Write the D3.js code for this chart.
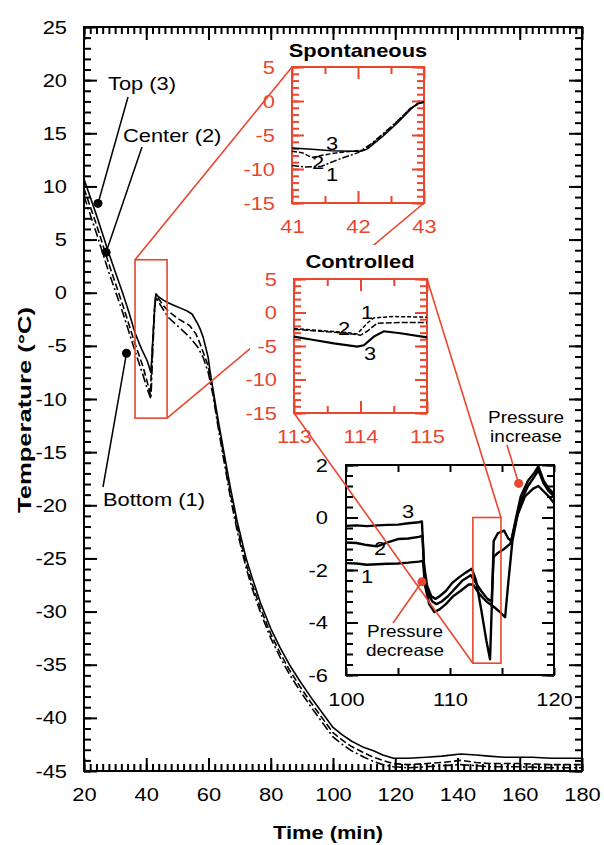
<!DOCTYPE html>
<html>
<head>
<meta charset="utf-8">
<script src="https://cdn.jsdelivr.net/npm/d3@7"></script>
<style>
  body { margin: 0; background: #fff; }
  text { font-family: "Liberation Sans", Arial, sans-serif; }
</style>
</head>
<body>
<svg id="chart" width="604" height="845"></svg>
<script>
// main run, time (min) vs temperature (°C) -- probes 3 = top, 2 = center, 1 = bottom
const topProbe = [[20,10.7],[22,9.0],[24,7.3],[26,5.5],[28,3.7],[30,2.0],[32.5,-0.1],[34.5,-1.9],[36.4,-3.8],[38.5,-5.3],[40.3,-6.4],[41.5,-7.5],[42.1,-4.5],[42.7,-1.5],[43.1,-0.1],[44,-0.4],[45.5,-0.7],[47,-0.95],[49,-1.2],[51,-1.45],[53,-1.7],[54.7,-2.0],[56.3,-2.8],[57.3,-3.4],[58.3,-4.2],[59.9,-6.1],[60.5,-7.4],[61.5,-9.2],[63,-11.8],[64.7,-14.6],[67,-18.3],[69.2,-21.5],[72,-24.9],[74,-26.8],[76.6,-29.1],[80,-31.6],[83,-33.4],[86,-35.0],[89.5,-36.6],[93,-38.1],[96,-39.3],[98,-40.1],[100,-40.9],[103,-41.6],[106,-42.2],[110,-42.8],[113,-43.1],[116,-43.5],[119.4,-43.8],[124,-43.8],[130,-43.7],[135,-43.6],[141,-43.4],[146,-43.5],[150,-43.6],[155,-43.7],[160,-43.7],[164,-43.7],[170,-43.8],[175,-43.8],[180,-43.8]];
const centerProbe = [[20,9.8],[24,6.4],[28,2.7],[32.5,-1.2],[36.4,-4.8],[39,-7.0],[40.5,-8.6],[41.3,-9.6],[42.0,-5.0],[42.7,-1.2],[43.1,-0.2],[44,-0.6],[45.5,-1.2],[47,-1.7],[50,-2.4],[54,-3.1],[56,-3.9],[57.3,-4.8],[59.9,-6.9],[61.5,-9.5],[63,-12.2],[64.7,-15.0],[67,-18.8],[69.2,-22.0],[72,-25.4],[74,-27.4],[76.6,-29.6],[80,-32.1],[83,-33.9],[86,-35.5],[89.5,-37.1],[93,-38.6],[96,-39.8],[100,-41.4],[103,-42.1],[106,-42.7],[110,-43.3],[113,-43.7],[116,-44.0],[119.4,-44.3],[124,-44.4],[130,-44.3],[135,-44.2],[141,-44.0],[146,-44.2],[150,-44.3],[160,-44.3],[170,-44.4],[180,-44.4]];
const bottomProbe = [[20,9.1],[24,5.6],[28,1.9],[32.5,-1.9],[36.4,-5.5],[39,-7.8],[40.5,-9.2],[41.5,-10.0],[42.1,-5.5],[42.7,-1.5],[43.1,-0.4],[44,-0.9],[45.5,-1.6],[47,-2.3],[50,-3.1],[54,-4.2],[56.5,-5.1],[58.3,-6.1],[60,-7.6],[61.5,-9.7],[63,-12.5],[64.7,-15.4],[67,-19.2],[69.2,-22.4],[72,-25.8],[74,-27.8],[76.6,-30.0],[80,-32.5],[83,-34.3],[86,-35.9],[89.5,-37.5],[93,-39.0],[96,-40.2],[100,-41.8],[103,-42.5],[106,-43.1],[110,-43.7],[113,-44.1],[116,-44.4],[119.4,-44.6],[124,-44.7],[130,-44.6],[135,-44.5],[141,-44.4],[146,-44.5],[150,-44.6],[160,-44.6],[170,-44.7],[180,-44.7]];

// "Spontaneous" inset, 41-43 min
const spont3 = [[41,-6.9],[41.3,-7.1],[41.6,-7.3],[41.9,-7.4],[42.05,-7.4],[42.15,-7.0],[42.4,-5.0],[42.6,-3.2],[42.8,-1.2],[42.9,-0.4],[43,-0.2]];
const spont2 = [[41,-7.4],[41.15,-7.6],[41.3,-8.3],[41.5,-7.9],[41.7,-7.6],[41.9,-7.4],[42.1,-7.2],[42.4,-4.8],[42.6,-3.0],[42.8,-1.0],[43,-0.1]];
const spont1 = [[41,-9.5],[41.2,-9.7],[41.45,-9.6],[41.7,-8.6],[42.0,-7.6],[42.2,-6.3],[42.5,-3.8],[42.8,-1.1],[42.9,-0.4],[43,-0.1]];

// "Controlled" inset, 113-115 min
const ctrl3 = [[113,-3.6],[113.3,-4.1],[113.6,-4.6],[113.95,-5.1],[114.05,-4.9],[114.2,-3.6],[114.35,-2.8],[114.6,-3.1],[115,-3.7]];
const ctrl2 = [[113,-2.5],[113.4,-2.8],[113.8,-3.1],[114,-3.4],[114.1,-2.8],[114.25,-1.6],[114.6,-1.5],[115,-1.5]];
const ctrl1 = [[113,-2.4],[113.4,-2.7],[113.8,-3.0],[113.95,-3.2],[114.1,-1.6],[114.2,-0.8],[114.5,-0.6],[115,-0.7]];

// pressure inset, 100-120 min
const press3 = [[100,-0.32],[101,-0.3],[102,-0.33],[103,-0.3],[104,-0.28],[105,-0.27],[106,-0.22],[107,-0.18],[107.3,-0.15],[107.5,-1.8],[107.8,-2.6],[108.2,-3.0],[108.6,-3.1],[109,-3.0],[109.6,-2.8],[110.2,-2.5],[110.8,-2.3],[111.5,-2.1],[112.1,-1.95],[112.5,-2.4],[113,-3.5],[113.5,-4.7],[113.85,-5.4],[114.05,-3.0],[114.2,-0.9],[114.6,-0.6],[115.2,-0.5],[115.6,-0.8],[115.9,-0.9],[116.3,-0.1],[116.8,0.8],[117.5,1.4],[118.1,1.7],[118.5,1.95],[119,1.4],[119.5,1.1],[120,0.9]];
const press2 = [[100,-0.95],[101,-0.97],[102,-1.05],[103,-1.1],[104,-0.95],[105,-0.82],[106,-0.8],[107,-0.74],[107.35,-0.7],[107.55,-2.2],[107.9,-2.9],[108.3,-3.2],[108.7,-3.3],[109.2,-3.2],[109.8,-3.0],[110.5,-2.7],[111.2,-2.4],[112,-2.2],[112.5,-2.5],[113,-2.8],[113.6,-3.1],[114,-3.2],[114.2,-1.5],[114.6,-1.35],[115.2,-1.2],[115.8,-1.0],[116.3,-0.2],[116.8,0.6],[117.5,1.2],[118.1,1.55],[118.5,1.8],[119,1.3],[119.5,1.0],[120,0.8]];
const press1 = [[100,-1.74],[101,-1.75],[102,-1.8],[103,-1.78],[104,-1.76],[105,-1.75],[106,-1.72],[107,-1.68],[107.4,-1.65],[107.6,-2.6],[108,-3.3],[108.5,-3.6],[109,-3.5],[109.6,-3.3],[110.3,-3.0],[111,-2.8],[111.8,-2.55],[112.2,-2.55],[112.8,-2.9],[113.5,-3.2],[114.2,-3.4],[114.8,-3.6],[115.3,-3.8],[115.6,-2.5],[116,-0.9],[116.5,0.1],[117.2,0.8],[118,1.1],[118.5,1.2],[119,1.0],[119.5,0.8],[120,0.55]];

// ticks
const mainXLabels = [20, 40, 60, 80, 100, 120, 140, 160, 180];
const mainYLabels = [-45, -40, -35, -30, -25, -20, -15, -10, -5, 0, 5, 10, 15, 20, 25];
const spontXLabels = [41, 42, 43];
const ctrlXLabels = [113, 114, 115];
const insetYLabels = [-15, -10, -5, 0, 5];
const pressXLabels = [100, 110, 120];
const pressYLabels = [-6, -4, -2, 0, 2];

const RED = '#e8462f';
const svg = d3.select('#chart');

const line = (xs, ys) => d3.line().x(d => xs(d[0])).y(d => ys(d[1]));

// box + inward ticks on all four sides
function frame(g, xs, ys, o) {
  const [x0, x1] = xs.range(), [y0, y1] = ys.range();
  g.append('rect').attr('x', x0).attr('y', y1).attr('width', x1 - x0).attr('height', y0 - y1)
    .attr('fill', o.fill || 'none').attr('stroke', o.color).attr('stroke-width', o.width);
  const fmt = labels => d => labels.includes(d) ? String(d) : '';
  const sides = [
    [d3.axisBottom(xs), 0, y0, o.xMajor, o.xMinor, o.xLabels],
    [d3.axisTop(xs), 0, y1, o.xMajor, o.xMinor, null],
    [d3.axisLeft(ys), x0, 0, o.yMajor, o.yMinor, o.yLabels],
    [d3.axisRight(ys), x1, 0, o.yMajor, o.yMinor, null]
  ];
  sides.forEach(([axis, tx, ty, major, minor, labels]) => {
    [[minor, o.minorLen, null], [major, o.majorLen, labels]].forEach(([vals, len, lab]) => {
      if (!vals) return;
      const a = g.append('g').attr('transform', `translate(${tx},${ty})`)
        .call(axis.tickValues(vals).tickSizeInner(-len).tickSizeOuter(0)
          .tickPadding(o.pad).tickFormat(lab ? fmt(lab) : () => ''));
      a.attr('font-family', null).attr('font-size', null);
      a.select('.domain').remove();
      a.selectAll('.tick line').attr('stroke', o.color).attr('stroke-width', o.width);
      a.selectAll('.tick text').attr('fill', o.color).attr('font-size', o.fontSize);
    });
  });
}

/* ---------- main plot ---------- */
const x = d3.scaleLinear().domain([20, 180]).range([84, 582]);
const y = d3.scaleLinear().domain([-45, 25]).range([771, 27]);

const main = svg.append('g');
frame(main, x, y, {
  color: '#000', width: 2, majorLen: 13, minorLen: 7, pad: 17, fontSize: 19,
  xMajor: mainXLabels, xMinor: d3.range(20, 181, 2), xLabels: mainXLabels,
  yMajor: mainYLabels, yMinor: d3.range(-45, 26, 1), yLabels: mainYLabels
});

const curves = main.append('g').attr('fill', 'none').attr('stroke', '#000')
  .attr('stroke-width', 1.6).attr('stroke-linejoin', 'round');
curves.append('path').attr('d', line(x, y)(bottomProbe)).attr('stroke-dasharray', '9,3,2,3');
curves.append('path').attr('d', line(x, y)(centerProbe)).attr('stroke-dasharray', '7,3');
curves.append('path').attr('d', line(x, y)(topProbe));

svg.append('text').attr('x', 328).attr('y', 839).attr('text-anchor', 'middle')
  .attr('font-size', 19).attr('font-weight', 'bold').text('Time (min)');
svg.append('text').attr('transform', 'translate(31,410) rotate(-90)').attr('text-anchor', 'middle')
  .attr('font-size', 19).attr('font-weight', 'bold').attr('class', 'fixed')
  .attr('textLength', 206).attr('lengthAdjust', 'spacingAndGlyphs').text('Temperature (°C)');

// probe call-outs
const callouts = [
  { label: 'Top (3)', t: 24.5, v: 8.4, lx: 128, ly: 97, tx: 108, ty: 90 },
  { label: 'Center (2)', t: 27.1, v: 3.8, lx: 142, ly: 147, tx: 123, ty: 142 },
  { label: 'Bottom (1)', t: 33.65, v: -5.7, lx: 103, ly: 487, tx: 103, ty: 506 }
];
callouts.forEach(c => {
  main.append('line').attr('x1', x(c.t)).attr('y1', y(c.v)).attr('x2', c.lx).attr('y2', c.ly)
    .attr('stroke', '#000').attr('stroke-width', 1.5);
  main.append('circle').attr('cx', x(c.t)).attr('cy', y(c.v)).attr('r', 4.5).attr('fill', '#000');
  main.append('text').attr('x', c.tx).attr('y', c.ty).attr('font-size', 19).text(c.label);
});

// zoom box on main plot
const zoomBox = { t0: 36.4, t1: 46.7, v0: -11.8, v1: 3.1 };
main.append('rect').attr('x', x(zoomBox.t0)).attr('y', y(zoomBox.v1))
  .attr('width', x(zoomBox.t1) - x(zoomBox.t0)).attr('height', y(zoomBox.v0) - y(zoomBox.v1))
  .attr('fill', 'none').attr('stroke', RED).attr('stroke-width', 1.6);

/* ---------- Spontaneous inset ---------- */
const sx = d3.scaleLinear().domain([41, 43]).range([292, 424]);
const sy = d3.scaleLinear().domain([-15, 5]).range([203, 67]);
svg.append('line').attr('x1', x(zoomBox.t0)).attr('y1', y(zoomBox.v1)).attr('x2', sx(41)).attr('y2', sy(5))
  .attr('stroke', RED).attr('stroke-width', 1.6);
svg.append('line').attr('x1', x(zoomBox.t1)).attr('y1', y(zoomBox.v0)).attr('x2', sx(43)).attr('y2', sy(-15))
  .attr('stroke', RED).attr('stroke-width', 1.6);

const spont = svg.append('g');
frame(spont, sx, sy, {
  color: RED, width: 2, fill: '#fff', majorLen: 12, minorLen: 7, pad: 17, fontSize: 19,
  xMajor: spontXLabels, xMinor: [41.5, 42.5], xLabels: spontXLabels,
  yMajor: insetYLabels, yMinor: d3.range(-15, 6, 1), yLabels: insetYLabels
});
const sc = spont.append('g').attr('fill', 'none').attr('stroke', '#000').attr('stroke-width', 1.5);
sc.append('path').attr('d', line(sx, sy)(spont1)).attr('stroke-dasharray', '7,2,2,2');
sc.append('path').attr('d', line(sx, sy)(spont2)).attr('stroke-dasharray', '5,2');
sc.append('path').attr('d', line(sx, sy)(spont3));
spont.append('text').attr('x', 358).attr('y', 57).attr('text-anchor', 'middle')
  .attr('font-size', 19).attr('font-weight', 'bold').text('Spontaneous');
[['3', 332, 143], ['2', 318, 162], ['1', 332, 174]].forEach(([s, tx, ty]) =>
  spont.append('text').attr('x', tx).attr('y', ty).attr('text-anchor', 'middle')
    .attr('dominant-baseline', 'central').attr('font-size', 19).text(s));

/* ---------- Controlled inset ---------- */
const cx = d3.scaleLinear().domain([113, 115]).range([294, 427]);
const cy = d3.scaleLinear().domain([-15, 5]).range([413, 279]);
const ctrl = svg.append('g');
ctrl.append('rect').attr('x', 250).attr('y', 245).attr('width', 182).attr('height', 204).attr('fill', '#fff');
frame(ctrl, cx, cy, {
  color: RED, width: 2, fill: '#fff', majorLen: 12, minorLen: 7, pad: 17, fontSize: 19,
  xMajor: ctrlXLabels, xMinor: [113.5, 114.5], xLabels: ctrlXLabels,
  yMajor: insetYLabels, yMinor: d3.range(-15, 6, 1), yLabels: insetYLabels
});
const cc = ctrl.append('g').attr('fill', 'none').attr('stroke', '#000').attr('stroke-width', 1.5);
cc.append('path').attr('d', line(cx, cy)(ctrl1)).attr('stroke-dasharray', '4,2');
cc.append('path').attr('d', line(cx, cy)(ctrl2)).attr('stroke-dasharray', '6,2');
cc.append('path').attr('d', line(cx, cy)(ctrl3)).attr('stroke-width', 2.2);
ctrl.append('text').attr('x', 360).attr('y', 268).attr('text-anchor', 'middle')
  .attr('font-size', 19).attr('font-weight', 'bold').text('Controlled');
[['1', 367, 312], ['2', 344, 328], ['3', 370, 353]].forEach(([s, tx, ty]) =>
  ctrl.append('text').attr('x', tx).attr('y', ty).attr('text-anchor', 'middle')
    .attr('dominant-baseline', 'central').attr('font-size', 19).text(s));

/* ---------- pressure inset ---------- */
const px = d3.scaleLinear().domain([100, 120]).range([346, 554]);
const py = d3.scaleLinear().domain([-6, 2]).range([675, 465]);
const press = svg.append('g');
frame(press, px, py, {
  color: '#000', width: 2, fill: '#fff', majorLen: 12, minorLen: 7, pad: 18, fontSize: 19,
  xMajor: null, xMinor: [100, 105, 110, 115, 120], xLabels: null,
  yMajor: pressYLabels, yMinor: d3.range(-6, 2.01, 0.4), yLabels: pressYLabels
});
// x labels every 10, short ticks every 5
press.append('g').attr('transform', `translate(0,${py(-6)})`)
  .call(d3.axisBottom(px).tickValues(pressXLabels).tickSize(0).tickPadding(18).tickFormat(d => String(d)))
  .call(a => a.attr('font-family', null).attr('font-size', null))
  .call(a => a.select('.domain').remove())
  .selectAll('text').attr('font-size', 19);
const pc = press.append('g').attr('fill', 'none').attr('stroke', '#000').attr('stroke-width', 2.4)
  .attr('stroke-linejoin', 'round');
[press1, press2, press3].forEach(d => pc.append('path').attr('d', line(px, py)(d)));
[['3', 408, 511], ['2', 380, 548], ['1', 367, 576]].forEach(([s, tx, ty]) =>
  press.append('text').attr('x', tx).attr('y', ty).attr('text-anchor', 'middle')
    .attr('dominant-baseline', 'central').attr('font-size', 19).text(s));

// red box in pressure inset + connectors to Controlled
const pBox = { t0: 112.2, t1: 114.9, v0: -5.55, v1: 0 };
press.append('rect').attr('x', px(pBox.t0)).attr('y', py(pBox.v1))
  .attr('width', px(pBox.t1) - px(pBox.t0)).attr('height', py(pBox.v0) - py(pBox.v1))
  .attr('fill', 'none').attr('stroke', RED).attr('stroke-width', 1.6);
svg.append('line').attr('x1', cx(113)).attr('y1', cy(-15)).attr('x2', px(pBox.t0)).attr('y2', py(pBox.v0))
  .attr('stroke', RED).attr('stroke-width', 1.6);
svg.append('line').attr('x1', cx(115)).attr('y1', cy(5)).attr('x2', px(pBox.t1)).attr('y2', py(pBox.v1))
  .attr('stroke', RED).attr('stroke-width', 1.6);

// pressure call-outs, one text per line
const pressNotes = [
  { lines: ['Pressure', 'decrease'], t: 107.3, v: -2.45, lx: 393, ly: 623, tx: 405, ty: 637 },
  { lines: ['Pressure', 'increase'], t: 116.6, v: 1.3, lx: 507, ly: 445, tx: 526, ty: 423 }
];
pressNotes.forEach(n => {
  svg.append('line').attr('x1', px(n.t)).attr('y1', py(n.v)).attr('x2', n.lx).attr('y2', n.ly)
    .attr('stroke', RED).attr('stroke-width', 1.6);
  svg.append('circle').attr('cx', px(n.t)).attr('cy', py(n.v)).attr('r', 4.5).attr('fill', RED);
  n.lines.forEach((s, i) => svg.append('text').attr('x', n.tx).attr('y', n.ty + i * 19)
    .attr('text-anchor', 'middle').attr('font-size', 16.5).text(s));
});

// the source figure's lettering runs a little wide
svg.selectAll('text').filter(function () { return !this.classList.contains('fixed'); })
  .each(function () {
    const w = this.getComputedTextLength();
    if (w > 0) d3.select(this).attr('textLength', w * 1.15).attr('lengthAdjust', 'spacingAndGlyphs');
  });
</script>
</body>
</html>
